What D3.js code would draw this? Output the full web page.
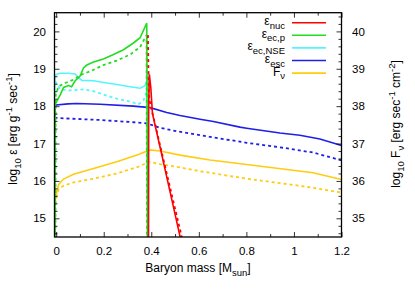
<!DOCTYPE html>
<html>
<head>
<meta charset="utf-8">
<script src="https://cdn.jsdelivr.net/npm/d3@7"></script>
<style>
    body { margin: 0; background: #fff; }
    text { font-family: "Liberation Sans", Arial, Helvetica, sans-serif; fill: #000; }
</style>
</head>
<body>
<div id="chart"></div>
<script>
// values: [baryon mass, log10 value]
const nucSolid = [[0.388,14.4],[0.389,18.0],[0.392,18.85],[0.398,18.5],[0.405,17.8],[0.44,16.82],[0.48,15.68],[0.525,14.4]];
const nucDot = [[0.386,19.9],[0.388,19.0],[0.391,18.2],[0.40,17.95],[0.45,16.6],[0.532,14.4]];
const ecpSolid = [[-0.005,14.4],[-0.004,18.05],[0.017,18.3],[0.031,18.5],[0.052,18.55],[0.065,18.52],[0.08,18.68],[0.1,18.8],[0.115,19.02],[0.129,19.1],[0.157,19.18],[0.199,19.26],[0.241,19.38],[0.283,19.51],[0.325,19.69],[0.353,19.83],[0.381,20.22],[0.384,14.4]];
const ecpDot = [[-0.003,14.4],[-0.002,18.3],[0.01,18.53],[0.038,18.62],[0.073,18.71],[0.108,18.85],[0.143,18.93],[0.199,19.1],[0.255,19.22],[0.311,19.38],[0.353,19.58],[0.38,19.9],[0.382,14.4]];
const nseSolid = [[-0.006,18.3],[-0.005,18.78],[0.0,18.85],[0.017,18.88],[0.05,18.88],[0.08,18.86],[0.094,18.76],[0.108,18.69],[0.157,18.68],[0.213,18.62],[0.255,18.58],[0.311,18.52],[0.353,18.48],[0.374,18.55],[0.384,18.72],[0.388,18.9],[0.389,14.4]];
const nseDot = [[-0.004,18.67],[0.017,18.45],[0.059,18.42],[0.115,18.45],[0.157,18.4],[0.199,18.31],[0.255,18.2],[0.311,18.12],[0.346,18.05],[0.367,18.15],[0.384,18.45],[0.386,18.7],[0.387,14.4]];
const escSolid = [[-0.007,18.0],[0.0,18.03],[0.05,18.06],[0.087,18.07],[0.185,18.05],[0.325,18.0],[0.395,17.96],[0.465,17.83],[0.521,17.75],[0.605,17.65],[0.661,17.59],[0.773,17.44],[0.801,17.41],[0.941,17.28],[1.025,17.22],[1.109,17.12],[1.2,16.95]];
const escDot = [[-0.007,17.69],[0.045,17.67],[0.185,17.63],[0.325,17.57],[0.381,17.54],[0.437,17.42],[0.507,17.33],[0.647,17.18],[0.801,17.02],[0.941,16.9],[1.08,16.76],[1.2,16.55]];
// F_nu on the right axis
const fnuSolid = [[-0.005,34.4],[-0.004,35.5],[0.01,35.9],[0.031,36.05],[0.073,36.18],[0.157,36.33],[0.255,36.51],[0.346,36.71],[0.394,36.83],[0.437,36.8],[0.521,36.69],[0.647,36.56],[0.801,36.44],[1.08,36.22],[1.2,36.04]];
const fnuDot = [[-0.004,35.4],[0.01,35.78],[0.031,35.87],[0.073,35.96],[0.157,36.06],[0.255,36.2],[0.346,36.38],[0.39,36.51],[0.437,36.45],[0.521,36.36],[0.605,36.26],[0.801,36.06],[1.025,35.87],[1.2,35.69]];

const xTicks = [0, 0.2, 0.4, 0.6, 0.8, 1, 1.2];
const yTicks = [15, 16, 17, 18, 19, 20];
const yRTicks = [35, 36, 37, 38, 39, 40];

const legendItems = [
    {main: "ε", sub: "nuc", color: "#ff0000"},
    {main: "ε", sub: "ec,p", color: "#22dd22"},
    {main: "ε", sub: "ec,NSE", color: "#55f5ff"},
    {main: "ε", sub: "esc", color: "#1f1fe8"},
    {main: "F", sub: "ν", color: "#ffcc11"}
];

const w = 415, h = 291;
const pLeft = 54.5, pRight = 341.5, pTop = 12.7, pBottom = 237;

const x = d3.scaleLinear().domain([-0.007, 1.2]).range([pLeft, pRight]);
const y = d3.scaleLinear().domain([14.5, 20.5]).range([pBottom, pTop]);
const yR = d3.scaleLinear().domain([34.5, 40.5]).range([pBottom, pTop]);

const svg = d3.select("#chart").append("svg")
    .attr("width", w)
    .attr("height", h);

svg.append("clipPath").attr("id", "plotClip")
    .append("rect")
    .attr("x", pLeft).attr("y", pTop)
    .attr("width", pRight - pLeft).attr("height", pBottom - pTop);

const plot = svg.append("g").attr("clip-path", "url(#plotClip)");

const lineL = d3.line().x(d => x(d[0])).y(d => y(d[1]));
const lineR = d3.line().x(d => x(d[0])).y(d => yR(d[1]));

const series = [
    {data: escDot, color: legendItems[3].color, dash: true, line: lineL},
    {data: fnuDot, color: legendItems[4].color, dash: true, line: lineR},
    {data: fnuSolid, color: legendItems[4].color, dash: false, line: lineR},
    {data: escSolid, color: legendItems[3].color, dash: false, line: lineL},
    {data: nseDot, color: legendItems[2].color, dash: true, line: lineL},
    {data: nseSolid, color: legendItems[2].color, dash: false, line: lineL},
    {data: ecpDot, color: legendItems[1].color, dash: true, line: lineL},
    {data: ecpSolid, color: legendItems[1].color, dash: false, line: lineL},
    {data: nucDot, color: legendItems[0].color, dash: true, line: lineL},
    {data: nucSolid, color: legendItems[0].color, dash: false, line: lineL}
];

series.forEach(s => {
    plot.append("path")
        .attr("d", s.line(s.data))
        .attr("fill", "none")
        .attr("stroke", s.color)
        .attr("stroke-width", s.dash ? 1.8 : 1.6)
        .attr("stroke-dasharray", s.dash ? "3,3" : null);
});

// axes, ticks pointing inward
function styleAxis(g) {
    g.select(".domain").remove();
    g.selectAll("line").attr("stroke", "#000").attr("stroke-width", 0.8);
    g.selectAll("text").attr("font-size", 11.5).attr("font-family", "Liberation Sans, Arial, sans-serif").attr("fill", "#000");
}

const xMinor = d3.range(0, 1.25, 0.1).filter(v => xTicks.every(t => Math.abs(t - v) > 1e-6));
const yMinor = d3.range(14.6, 20.5, 0.2).filter(v => yTicks.every(t => Math.abs(t - v) > 1e-6));
const yRMinor = d3.range(34.6, 40.5, 0.2).filter(v => yRTicks.every(t => Math.abs(t - v) > 1e-6));

svg.append("g").attr("transform", "translate(0," + pBottom + ")")
    .call(d3.axisBottom(x).tickValues(xTicks).tickSize(-5).tickPadding(10).tickFormat(d3.format("")))
    .call(styleAxis);
svg.append("g").attr("transform", "translate(0," + pBottom + ")")
    .call(d3.axisBottom(x).tickValues(xMinor).tickSize(-3).tickFormat(""))
    .call(styleAxis);
svg.append("g").attr("transform", "translate(0," + pTop + ")")
    .call(d3.axisTop(x).tickValues(xTicks).tickSize(-5).tickFormat(""))
    .call(styleAxis);
svg.append("g").attr("transform", "translate(0," + pTop + ")")
    .call(d3.axisTop(x).tickValues(xMinor).tickSize(-3).tickFormat(""))
    .call(styleAxis);

svg.append("g").attr("transform", "translate(" + pLeft + ",0)")
    .call(d3.axisLeft(y).tickValues(yTicks).tickSize(-5).tickPadding(8.5).tickFormat(d3.format("d")))
    .call(styleAxis);
svg.append("g").attr("transform", "translate(" + pLeft + ",0)")
    .call(d3.axisLeft(y).tickValues(yMinor).tickSize(-3).tickFormat(""))
    .call(styleAxis);
svg.append("g").attr("transform", "translate(" + pRight + ",0)")
    .call(d3.axisRight(yR).tickValues(yRTicks).tickSize(-5).tickPadding(10.5).tickFormat(d3.format("d")))
    .call(styleAxis);
svg.append("g").attr("transform", "translate(" + pRight + ",0)")
    .call(d3.axisRight(yR).tickValues(yRMinor).tickSize(-3).tickFormat(""))
    .call(styleAxis);

svg.append("rect")
    .attr("x", pLeft).attr("y", pTop)
    .attr("width", pRight - pLeft).attr("height", pBottom - pTop)
    .attr("fill", "none")
    .attr("stroke", "#000")
    .attr("stroke-width", 1.3);

// legend
const legend = svg.append("g");
legendItems.forEach((d, i) => {
    const ly = 22.7 + i * 12.6;
    const t = legend.append("text")
        .attr("x", 285)
        .attr("y", ly + 2.5)
        .attr("text-anchor", "end")
        .attr("font-size", 12);
    t.append("tspan").text(d.main);
    t.append("tspan").attr("dy", 3.5).attr("font-size", 9.5).text(d.sub);
    legend.append("line")
        .attr("x1", 292).attr("x2", 326)
        .attr("y1", ly).attr("y2", ly)
        .attr("stroke", d.color)
        .attr("stroke-width", 1.6);
});

// axis titles
const xt = svg.append("text")
    .attr("x", 198).attr("y", 271.5)
    .attr("text-anchor", "middle")
    .attr("font-size", 12);
xt.append("tspan").text("Baryon mass [M");
xt.append("tspan").attr("dy", 4).attr("font-size", 9.5).text("sun");
xt.append("tspan").attr("dy", -4).text("]");

const lt = svg.append("text")
    .attr("transform", "translate(16.5,129) rotate(-90)")
    .attr("text-anchor", "middle")
    .attr("font-size", 12);
lt.append("tspan").text("log");
lt.append("tspan").attr("dy", 4).attr("font-size", 9.5).text("10");
lt.append("tspan").attr("dy", -4).text(" ε [erg g");
lt.append("tspan").attr("dy", -5).attr("font-size", 9.5).text("-1");
lt.append("tspan").attr("dy", 5).text(" sec");
lt.append("tspan").attr("dy", -5).attr("font-size", 9.5).text("-1");
lt.append("tspan").attr("dy", 5).text("]");

const rt = svg.append("text")
    .attr("transform", "translate(399.5,124) rotate(-90)")
    .attr("text-anchor", "middle")
    .attr("font-size", 12);
rt.append("tspan").text("log");
rt.append("tspan").attr("dy", 4).attr("font-size", 9.5).text("10");
rt.append("tspan").attr("dy", -4).text(" F");
rt.append("tspan").attr("dy", 4).attr("font-size", 9.5).text("ν");
rt.append("tspan").attr("dy", -4).text(" [erg sec");
rt.append("tspan").attr("dy", -5).attr("font-size", 9.5).text("-1");
rt.append("tspan").attr("dy", 5).text(" cm");
rt.append("tspan").attr("dy", -5).attr("font-size", 9.5).text("-2");
rt.append("tspan").attr("dy", 5).text("]");
</script>
</body>
</html>
